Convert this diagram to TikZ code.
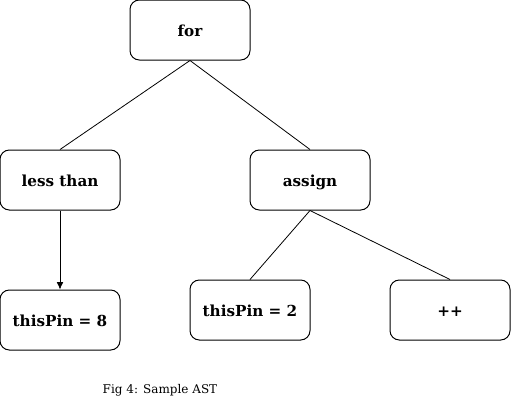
\documentclass[tikz,border=0pt]{standalone}
\usepackage{fontspec}
\setmainfont{DejaVu Serif}
\usetikzlibrary{arrows.meta}

\begin{document}
\begin{tikzpicture}[
					x=0.75pt, y=-0.75pt,
					astnode/.style={draw, line width=0.75pt, rounded corners=7pt, minimum width=90pt, minimum height=45pt, inner sep=0pt, text height=9pt, text depth=0pt, font=\bfseries\fontsize{11.4}{13}\selectfont},
					edge/.style={line width=0.6pt},
					caption/.style={font=\fontsize{9}{11}\selectfont}
				]
				% Marco de la figura
				\useasboundingbox (0,0) rectangle (511,401);

				% --- Raiz ---
				\node[astnode] (for) at (190,30) {for};

				% --- Nivel 1 ---
				\node[astnode] (lessthan) at (60,180) {less than};
				\node[astnode] (assign) at (310,180) {assign};

				% --- Nivel 2 ---
				\node[astnode] (pineight) at (60,320) {thisPin = 8};
				\node[astnode] (pintwo) at (250,310) {thisPin = 2};
				\node[astnode] (incr) at (450,310) {++};

				% --- Aristas ---
				\draw[edge] (for.south) -- (lessthan.north);
				\draw[edge] (for.south) -- (assign.north);
				\draw[edge, -{Latex[length=5.5pt, width=5pt]}] (lessthan.south) -- (pineight.north);
				\draw[edge] (assign.south) -- (pintwo.north);
				\draw[edge] (assign.south) -- (incr.north);

				% --- Pie de figura ---
				\node[caption] (cap) at (160,390) {Fig 4: Sample AST};

			\end{tikzpicture}
\end{document}
